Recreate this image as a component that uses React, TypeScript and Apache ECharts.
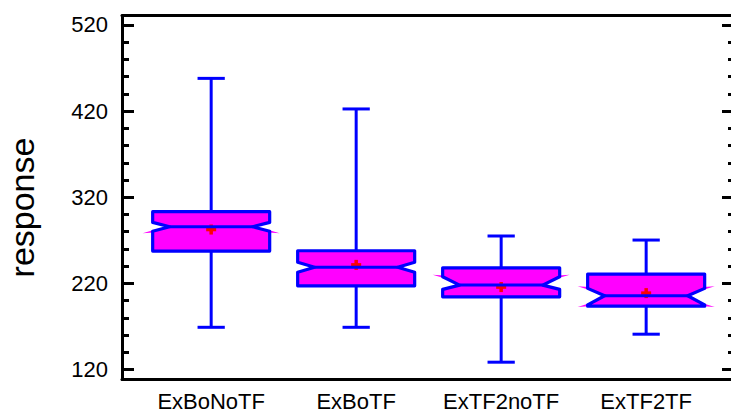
import React, { useEffect, useRef } from "react";
import * as echarts from "echarts";

const categories = ["ExBoNoTF", "ExBoTF", "ExTF2noTF", "ExTF2TF"];
const whiskerLow = [169, 169, 128.5, 161];
const q1 = [257.5, 217.2, 204.4, 193.5];
const median = [285.7, 238.8, 218, 205.6];
const q3 = [303.2, 257.9, 238.1, 230.8];
const whiskerHigh = [458, 422.5, 275, 270.3];
const notchLow = [280.5, 233, 213, 195];
const notchHigh = [290.8, 244.5, 227.7, 214.2];
const means = [282.5, 241.5, 215.7, 208.7];
// which notch ends show the thin fill spike: 0 none, 1 low, 2 high, 3 both
const spikeEnds = [1, 0, 2, 3];

const yMajorTicks = [120, 220, 320, 420, 520];
const yMinorTicks = [
  140, 160, 180, 200, 240, 260, 280, 300, 340, 360, 380, 400, 440, 460, 480, 500,
];
const xTicks = [1, 2, 3, 4];

const Y_MIN = 108.4;
const Y_MAX = 531;
const X_MIN = 0.385;
const X_MAX = 4.661;

const FONT = "'Liberation Sans', Arial, Helvetica, sans-serif";
const BLUE = "#0000ff";
const MAGENTA = "#ff00ff";
const RED = "#ff0000";

export default function App() {
  const ref = useRef<HTMLDivElement>(null);

  useEffect(() => {
    if (!ref.current) return;
    const chart = echarts.init(ref.current, null, { renderer: "svg" });

    const data = categories.map((_, i) => [
      i + 1,
      whiskerLow[i],
      q1[i],
      median[i],
      q3[i],
      whiskerHigh[i],
      notchLow[i],
      notchHigh[i],
      means[i],
      spikeEnds[i],
    ]);

    const renderItem = (params: any, api: any) => {
      const x = api.value(0);
      const unit = api.size([1, 0])[0];
      const Y = (v: number) => api.coord([x, v])[1];
      const cx = api.coord([x, api.value(3)])[0];
      const hw = unit * 0.4035;
      const inset = unit * 0.117;
      const capHalf = unit * 0.094;
      const yLow = Y(api.value(1));
      const y1 = Y(api.value(2));
      const ym = Y(api.value(3));
      const y3 = Y(api.value(4));
      const yHigh = Y(api.value(5));
      const yl = Y(api.value(6));
      const yh = Y(api.value(7));
      const yMean = Y(api.value(8));
      const spikes = api.value(9);
      const L = cx - hw;
      const R = cx + hw;

      const pts = [
        [L, y3],
        [R, y3],
        [R, yh],
        [R - inset, ym],
        [R, yl],
        [R, y1],
        [L, y1],
        [L, yl],
        [L + inset, ym],
        [L, yh],
      ];

      const children: any[] = [];
      children.push({
        type: "polygon",
        shape: { points: pts },
        style: { fill: MAGENTA, stroke: null },
      });

      const ext = 10;
      const addSpike = (yEnd: number, dir: number) => {
        const tipDy = dir * 2;
        children.push({
          type: "polygon",
          shape: {
            points: [
              [L + 1, yEnd - 1.3],
              [L - ext, yEnd + tipDy],
              [L + 1, yEnd + 1.3],
            ],
          },
          style: { fill: MAGENTA },
        });
        children.push({
          type: "polygon",
          shape: {
            points: [
              [R - 1, yEnd - 1.3],
              [R + ext, yEnd + tipDy],
              [R - 1, yEnd + 1.3],
            ],
          },
          style: { fill: MAGENTA },
        });
      };
      if (spikes === 1 || spikes === 3) addSpike(yl, 1);
      if (spikes === 2 || spikes === 3) addSpike(yh, -1);

      const blueLine = (x1: number, yA: number, x2: number, yB: number) => ({
        type: "line",
        shape: { x1, y1: yA, x2, y2: yB },
        style: { stroke: BLUE, lineWidth: 3 },
      });

      children.push(blueLine(cx, y3, cx, yHigh));
      children.push(blueLine(cx, y1, cx, yLow));
      children.push(blueLine(cx - capHalf, yHigh, cx + capHalf, yHigh));
      children.push(blueLine(cx - capHalf, yLow, cx + capHalf, yLow));

      const m = 5;
      children.push({
        type: "line",
        shape: { x1: cx - m, y1: yMean, x2: cx + m, y2: yMean },
        style: { stroke: RED, lineWidth: 3.5 },
      });
      children.push({
        type: "line",
        shape: { x1: cx, y1: yMean - m, x2: cx, y2: yMean + m },
        style: { stroke: RED, lineWidth: 3.5 },
      });

      children.push({
        type: "polygon",
        shape: { points: pts },
        style: { fill: null, stroke: BLUE, lineWidth: 3.2, lineJoin: "round" },
      });
      children.push(blueLine(L + inset, ym, R - inset, ym));

      return { type: "group", children };
    };

    const yBase = {
      type: "value",
      min: Y_MIN,
      max: Y_MAX,
      splitLine: { show: false },
      axisLabel: { show: false },
    };

    chart.setOption({
      animation: false,
      backgroundColor: "#ffffff",
      grid: {
        left: 122,
        top: 15.5,
        width: 620,
        height: 364,
        containLabel: false,
        outerBoundsMode: "none",
      },
      xAxis: [
        {
          type: "value",
          min: X_MIN,
          max: X_MAX,
          position: "bottom",
          axisLine: { show: true, onZero: false, lineStyle: { color: "#000", width: 3 } },
          axisTick: { show: false },
          splitLine: { show: false },
          axisLabel: {
            customValues: xTicks,
            formatter: (v: number) => categories[Math.round(v) - 1] ?? "",
            color: "#000",
            fontFamily: FONT,
            fontSize: 22,
            margin: 11,
            showMinLabel: true,
            showMaxLabel: true,
          },
        },
        {
          type: "value",
          min: X_MIN,
          max: X_MAX,
          position: "top",
          axisLine: { show: true, onZero: false, lineStyle: { color: "#000", width: 3 } },
          axisTick: { show: false },
          splitLine: { show: false },
          axisLabel: { show: false },
        },
      ],
      yAxis: [
        {
          ...yBase,
          position: "left",
          axisLine: { show: true, onZero: false, lineStyle: { color: "#000", width: 3 } },
          axisTick: {
            show: true,
            inside: true,
            length: 12,
            customValues: yMajorTicks,
            lineStyle: { color: "#000", width: 3 },
          },
          axisLabel: {
            show: true,
            customValues: yMajorTicks,
            color: "#000",
            fontFamily: FONT,
            fontSize: 22,
            margin: 14,
          },
        },
        {
          ...yBase,
          position: "left",
          axisLine: { show: false },
          axisTick: {
            show: true,
            inside: true,
            length: 7,
            customValues: yMinorTicks,
            lineStyle: { color: "#000", width: 3 },
          },
        },
        {
          ...yBase,
          position: "right",
          axisLine: { show: false },
          axisTick: {
            show: true,
            inside: true,
            length: 20,
            customValues: yMajorTicks,
            lineStyle: { color: "#000", width: 3 },
          },
        },
        {
          ...yBase,
          position: "right",
          axisLine: { show: false },
          axisTick: {
            show: true,
            inside: true,
            length: 14,
            customValues: yMinorTicks,
            lineStyle: { color: "#000", width: 3 },
          },
        },
      ],
      graphic: [
        {
          type: "text",
          x: 22,
          y: 207.5,
          rotation: Math.PI / 2,
          style: {
            text: "response",
            fontFamily: FONT,
            fontSize: 34,
            fill: "#000",
            align: "center",
            verticalAlign: "middle",
          },
        },
      ],
      series: [
        {
          type: "custom",
          xAxisIndex: 0,
          yAxisIndex: 0,
          data,
          encode: { x: 0, y: [1, 2, 3, 4, 5] },
          renderItem,
          clip: false,
        },
      ],
    });

    return () => chart.dispose();
  }, []);

  return (
    <div
      ref={ref}
      style={{ position: "fixed", left: 0, top: 0, width: 731, height: 413 }}
    />
  );
}
